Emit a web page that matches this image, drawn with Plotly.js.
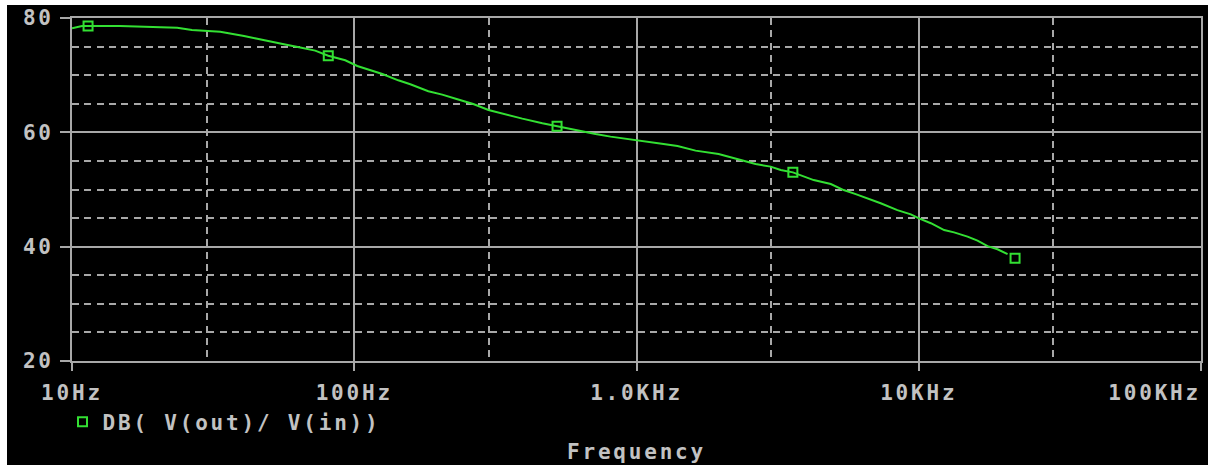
<!DOCTYPE html>
<html>
<head>
<meta charset="utf-8">
<script src="https://cdn.plot.ly/plotly-3.0.1.min.js"></script>
<style>
  html, body { margin: 0; padding: 0; background: #ffffff; }
  #chart { position: absolute; left: 7px; top: 5px; width: 1201px; height: 460px; }
  .xtick text, .ytick text, text.legendtext, text.xtitle { letter-spacing: 2.8px; }
  .xaxislayer-above .xtick:last-child text { text-anchor: end; }
</style>
</head>
<body>
<div id="chart"></div>
<script>
// Trace: DB( V(out)/ V(in))
const freqHz = [10, 10.85, 11.4, 14.8, 23.6, 26.6, 33.5, 36.9, 40.7, 44.9, 50.4, 56.9, 64.4, 72.7,
  80.9, 92.9, 102.5, 125.8, 143.2, 158, 183, 205, 232, 264, 299, 338, 394, 464, 523, 618, 716,
  809, 1008, 1247, 1397, 1619, 1954, 2339, 2642, 2986, 3243, 3581, 3870, 4244, 4880, 5420, 5980,
  6760, 7330, 8400, 9374, 10020, 11040, 12300, 13340, 14890, 16150, 17530, 19010, 20640];
const gainDb = [78.2, 78.6, 78.6, 78.6, 78.3, 77.9, 77.6, 77.25, 76.85, 76.4, 75.85, 75.35, 74.85, 74.3,
  73.4, 72.6, 71.6, 70.2, 69.1, 68.4, 67.2, 66.6, 65.8, 64.95, 63.9, 63.2, 62.4, 61.6, 61.05, 60.35, 59.7,
  59.25, 58.65, 57.95, 57.6, 56.8, 56.2, 55.15, 54.45, 54.0, 53.4, 53.0, 52.35, 51.65, 50.95, 49.9, 49.2,
  48.3, 47.6, 46.4, 45.65, 44.95, 44.1, 42.9, 42.5, 41.75, 41.05, 40.1, 39.55, 38.7];
const markerFreqHz = [11.4, 80.9, 523, 3581, 21940];
const markerDb = [78.6, 73.4, 61.05, 53.0, 37.97];
const traceName = 'DB( V(out)/ V(in))';

const xTickVals = [10, 100, 1000, 10000, 100000];
const xTickText = ['10Hz', '100Hz', '1.0KHz', '10KHz', '100KHz'];
const xMinorVals = [30, 300, 3000, 30000];
const yTickVals = [20, 40, 60, 80];
const yTickText = ['20', '40', '60', '80'];

const green = '#33e033';
const textGrey = '#c2c2c2';
const gridGrey = '#a8a8a8';
const font = { family: 'DejaVu Sans Mono, monospace', size: 21, color: textGrey, weight: 'bold' };

const traces = [
  {
    x: freqHz, y: gainDb, type: 'scatter', mode: 'lines',
    line: { color: green, width: 2 }, showlegend: false, hoverinfo: 'skip'
  },
  {
    x: markerFreqHz, y: markerDb, type: 'scatter', mode: 'markers', name: traceName,
    marker: { symbol: 'square-open', size: 9, color: green, line: { color: green, width: 2 } },
    showlegend: true
  }
];

const layout = {
  width: 1201, height: 460,
  margin: { l: 65, r: 7, t: 13, b: 104 },
  paper_bgcolor: '#000000', plot_bgcolor: '#000000',
  font: font,
  showlegend: true,
  legend: {
    x: -0.0084, xanchor: 'left', y: -0.178, yanchor: 'middle',
    bgcolor: 'rgba(0,0,0,0)', borderwidth: 0, font: font
  },
  xaxis: {
    type: 'log', range: [1, 5], autorange: false,
    tickmode: 'array', tickvals: xTickVals, ticktext: xTickText,
    ticks: 'outside', ticklen: 8, tickwidth: 2, tickcolor: gridGrey,
    tickfont: font, ticklabelstandoff: 4, ticklabeloverflow: 'allow',
    showgrid: true, gridcolor: gridGrey, gridwidth: 2,
    minor: { tickmode: 'array', tickvals: xMinorVals, showgrid: true, gridcolor: gridGrey, gridwidth: 2, griddash: '7px,5.3px', ticks: '' },
    showline: true, mirror: true, linecolor: gridGrey, linewidth: 2,
    zeroline: false,
    title: { text: 'Frequency', font: font, standoff: 40 }
  },
  yaxis: {
    range: [20, 80], autorange: false,
    tickmode: 'array', tickvals: yTickVals, ticktext: yTickText,
    ticks: 'outside', ticklen: 10, tickwidth: 2, tickcolor: gridGrey,
    tickfont: font, ticklabelstandoff: 2,
    showgrid: true, gridcolor: gridGrey, gridwidth: 2,
    minor: { tick0: 0, dtick: 5, showgrid: true, gridcolor: gridGrey, gridwidth: 2, griddash: '7px,5.3px', ticks: '' },
    showline: true, mirror: true, linecolor: gridGrey, linewidth: 2,
    zeroline: false
  }
};

Plotly.newPlot('chart', traces, layout, { displayModeBar: false, staticPlot: true });
</script>
</body>
</html>
